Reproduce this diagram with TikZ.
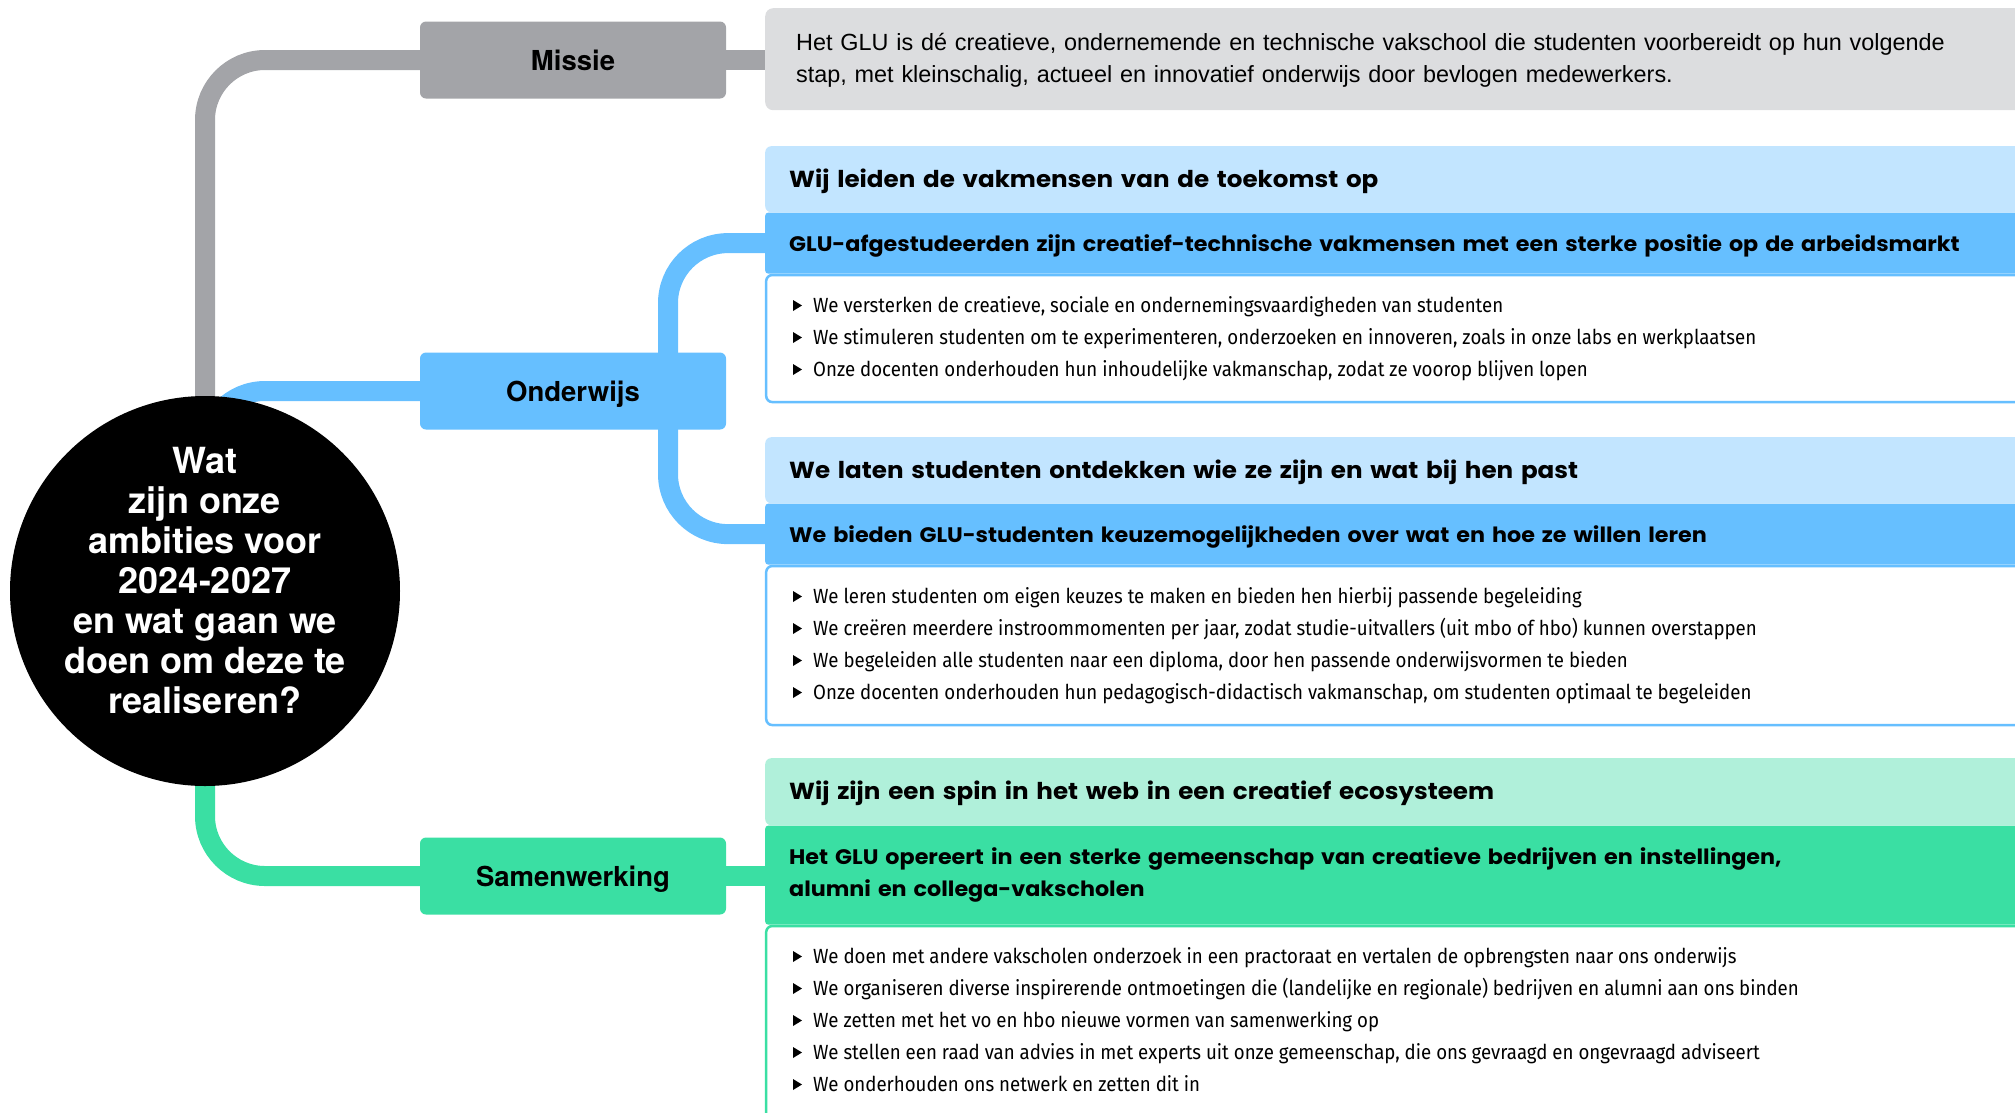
\documentclass[tikz,border=0pt]{standalone}
\usepackage{fontspec}
\setmainfont{TeX Gyre Heros}
\newfontfamily\headfont{Poppins}[FakeStretch=1.06]
\newfontfamily\bodyfont{Liberation Sans}
\newfontfamily\itemfont{Fira Sans}[FakeStretch=0.91]
\usetikzlibrary{positioning}

\definecolor{glugray}{HTML}{A3A4A8}
\definecolor{mistgray}{HTML}{DCDDDF}
\definecolor{skyblue}{HTML}{66BFFF}
\definecolor{skylight}{HTML}{C2E5FF}
\definecolor{mint}{HTML}{3ADFA3}
\definecolor{mintlight}{HTML}{B0F0DA}

\pgfdeclarelayer{background}
\pgfsetlayers{background,main}

\tikzset{
  connector/.style={line width=20pt, rounded corners=60pt}, % thick branches of the map
  pillar/.style={rectangle, rounded corners=6pt, minimum width=306pt, minimum height=77pt,
    text height=21pt, text depth=0pt, font=\bfseries\fontsize{27.5}{30}\selectfont},
  heading/.style={rectangle, anchor=north west, text width=1230pt, align=left,
    inner xsep=24pt, inner ysep=0pt, minimum height=66pt, text height=19pt, text depth=3pt,
    font=\headfont\bfseries\fontsize{23.2}{32}\selectfont},
  goal/.style={heading, rounded corners=3pt, minimum height=61pt,
    font=\headfont\bfseries\fontsize{21}{32}\selectfont},
  actions/.style={rectangle, minimum width=1276pt, line width=2.5pt, fill=white, rounded corners=6pt},
  item/.style={anchor=base west, inner sep=0pt, font=\itemfont\fontsize{20.5}{24}\selectfont}
}

\begin{document}
\begin{tikzpicture}[x=1pt, y=-1pt]

    \useasboundingbox (0,0) rectangle (2015,1112);
    \clip (0,0) rectangle (2015,1112);

    % centre question
    \node[circle, fill=black, minimum size=390pt] (vraag) at (205,591) {};
    \node[text=white, align=center, font=\bfseries\fontsize{36}{40}\selectfont] (vraag_tekst) at (205,581)
      {Wat\\zijn onze\\ambities voor\\2024-2027\\en wat gaan we\\doen om deze te\\realiseren?};

    % the three pillars
    \node[pillar, fill=glugray] (missie) at (573,60) {Missie};
    \node[pillar, fill=skyblue] (onderwijs) at (573,391) {Onderwijs};
    \node[pillar, fill=mint] (samenwerking) at (573,876) {Samenwerking};

    \node[rectangle, anchor=north west, fill=mistgray, rounded corners=8pt, text width=1215pt,
      align=left, inner xsep=31pt, inner ysep=0pt, minimum height=102pt, text height=16pt,
      text depth=34pt, font=\bodyfont\fontsize{23.4}{32}\selectfont] (missie_tekst) at (765,8)
      {Het GLU is dé creatieve, ondernemende en technische vakschool die studenten voorbereidt op hun volgende\\
       stap, met kleinschalig, actueel en innovatief onderwijs door bevlogen medewerkers.};

    % Onderwijs, first ambition
    \node[heading, fill=skylight, rounded corners=6pt] (ambitie_1) at (765,146)
      {Wij leiden de vakmensen van de toekomst op};
    \node[goal, fill=skyblue, below=0pt of ambitie_1] (doel_1)
      {GLU-afgestudeerden zijn creatief-technische vakmensen met een sterke positie op de arbeidsmarkt};
    \node[actions, draw=skyblue, below=0pt of doel_1, minimum height=127pt] (acties_1) {};

    \foreach \txt [count=\i] in {
      {We versterken de creatieve, sociale en ondernemingsvaardigheden van studenten},
      {We stimuleren studenten om te experimenteren, onderzoeken en innoveren, zoals in onze labs en werkplaatsen},
      {Onze docenten onderhouden hun inhoudelijke vakmanschap, zodat ze voorop blijven lopen}} {
      \node[item] (actie_1_\i) at (813,280+32*\i) {\txt};
      \fill (793,268+32*\i) -- (793,279+32*\i) -- (802,273.5+32*\i) -- cycle;
    }

    % Onderwijs, second ambition
    \node[heading, fill=skylight, rounded corners=6pt] (ambitie_2) at (765,437)
      {We laten studenten ontdekken wie ze zijn en wat bij hen past};
    \node[goal, fill=skyblue, below=0pt of ambitie_2] (doel_2)
      {We bieden GLU-studenten keuzemogelijkheden over wat en hoe ze willen leren};
    \node[actions, draw=skyblue, below=0pt of doel_2, minimum height=159pt] (acties_2) {};

    \foreach \txt [count=\i] in {
      {We leren studenten om eigen keuzes te maken en bieden hen hierbij passende begeleiding},
      {We creëren meerdere instroommomenten per jaar, zodat studie-uitvallers (uit mbo of hbo) kunnen overstappen},
      {We begeleiden alle studenten naar een diploma, door hen passende onderwijsvormen te bieden},
      {Onze docenten onderhouden hun pedagogisch-didactisch vakmanschap, om studenten optimaal te begeleiden}} {
      \node[item] (actie_2_\i) at (813,571+32*\i) {\txt};
      \fill (793,559+32*\i) -- (793,570+32*\i) -- (802,564.5+32*\i) -- cycle;
    }

    % Samenwerking
    \node[heading, fill=mintlight, rounded corners=6pt, minimum height=67pt] (ambitie_3) at (765,758)
      {Wij zijn een spin in het web in een creatief ecosysteem};
    \node[goal, fill=mint, below=0pt of ambitie_3, minimum height=99pt, text depth=41pt] (doel_3)
      {Het GLU opereert in een sterke gemeenschap van creatieve bedrijven en instellingen,\\
       alumni en collega-vakscholen};
    \node[actions, draw=mint, below=0pt of doel_3, minimum height=260pt] (acties_3) {};

    \foreach \txt [count=\i] in {
      {We doen met andere vakscholen onderzoek in een practoraat en vertalen de opbrengsten naar ons onderwijs},
      {We organiseren diverse inspirerende ontmoetingen die (landelijke en regionale) bedrijven en alumni aan ons binden},
      {We zetten met het vo en hbo nieuwe vormen van samenwerking op},
      {We stellen een raad van advies in met experts uit onze gemeenschap, die ons gevraagd en ongevraagd adviseert},
      {We onderhouden ons netwerk en zetten dit in}} {
      \node[item] (actie_3_\i) at (813,931+32*\i) {\txt};
      \fill (793,919+32*\i) -- (793,930+32*\i) -- (802,924.5+32*\i) -- cycle;
    }

    % branches, behind everything else
    \coordinate (splitsing) at (668,391);
    \begin{pgfonlayer}{background}
      \draw[connector, glugray] (vraag.center) |- (missie.west);
      \draw[connector, glugray] (missie.east) -- (missie.east -| missie_tekst.west);
      \draw[connector, skyblue] (vraag.center) |- (onderwijs.west);
      \draw[connector, skyblue] (splitsing) |- (doel_1.west);
      \draw[connector, skyblue] (splitsing) |- (doel_2.west);
      \draw[connector, mint] (vraag.center) |- (samenwerking.west);
      \draw[connector, mint] (samenwerking.east) -- (samenwerking.east -| doel_3.west);
    \end{pgfonlayer}

\end{tikzpicture}
\end{document}
